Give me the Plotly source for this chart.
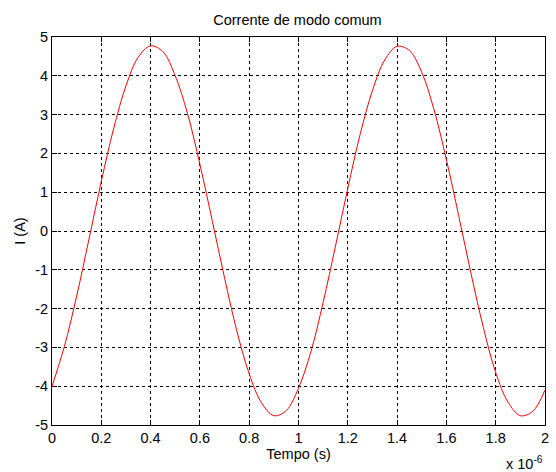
import plotly.graph_objects as go

# time in units of 1e-6 s
t_us = [0.00, 0.05, 0.10, 0.15, 0.20, 0.25, 0.30, 0.35, 0.40, 0.45,
        0.50, 0.55, 0.60, 0.65, 0.70, 0.75, 0.80, 0.85, 0.90, 0.95,
        1.00, 1.05, 1.10, 1.15, 1.20, 1.25, 1.30, 1.35, 1.40, 1.45,
        1.50, 1.55, 1.60, 1.65, 1.70, 1.75, 1.80, 1.85, 1.90, 1.95, 2.00]
current_a = [-4.00, -2.98, -1.68, -0.21, 1.28, 2.64, 3.74, 4.48, 4.77, 4.62,
             4.00, 3.02, 1.72, 0.27, -1.21, -2.58, -3.68, -4.43, -4.76, -4.63,
             -4.05, -3.12, -1.84, -0.39, 1.10, 2.49, 3.62, 4.41, 4.76, 4.65,
             4.09, 3.12, 1.84, 0.39, -1.10, -2.49, -3.65, -4.41, -4.76, -4.65, -4.10]

x_ticks = [0, 0.2, 0.4, 0.6, 0.8, 1, 1.2, 1.4, 1.6, 1.8, 2]
x_ticktext = ["0", "0.2", "0.4", "0.6", "0.8", "1", "1.2", "1.4", "1.6", "1.8", "2"]
y_ticks = [-5, -4, -3, -2, -1, 0, 1, 2, 3, 4, 5]
y_ticktext = ["-5", "-4", "-3", "-2", "-1", "0", "1", "2", "3", "4", "5"]

font = "Liberation Sans, Arial, sans-serif"
fs = 14.5

fig = go.Figure()
fig.add_trace(go.Scatter(x=t_us, y=current_a, mode="lines",
                         line=dict(color="#ff0000", width=1, shape="spline", smoothing=1.0),
                         showlegend=False))

axis_common = dict(
    showline=True, linecolor="black", linewidth=1, mirror="ticks",
    ticks="inside", ticklen=5, tickcolor="black", tickwidth=1,
    showgrid=True, gridcolor="black", gridwidth=1, griddash="3px,3px",
    zeroline=False, automargin=False,
    tickfont=dict(family=font, size=fs, color="black"),
)

fig.update_layout(
    width=556, height=472,
    margin=dict(l=52, r=11, t=37, b=47, autoexpand=False),
    paper_bgcolor="white", plot_bgcolor="white",
    title=dict(text="Corrente de modo comum", x=0.535, xanchor="center",
               y=0.957, yanchor="middle",
               font=dict(family=font, size=fs, color="black")),
    xaxis=dict(range=[0, 2], tickvals=x_ticks, ticktext=x_ticktext,
               title=dict(text="Tempo (s)", standoff=3,
                          font=dict(family=font, size=fs, color="black")),
               **axis_common),
    yaxis=dict(range=[-5, 5], tickvals=y_ticks, ticktext=y_ticktext,
               title=dict(text="I (A)", standoff=6,
                          font=dict(family=font, size=fs, color="black")),
               **axis_common),
    annotations=[dict(text="x 10<sup>-6</sup>", x=1.0, xref="paper", xanchor="right",
                      y=-0.097, yref="paper", yanchor="middle", showarrow=False,
                      font=dict(family=font, size=fs, color="black"))],
)

fig.write_html("out.html")
